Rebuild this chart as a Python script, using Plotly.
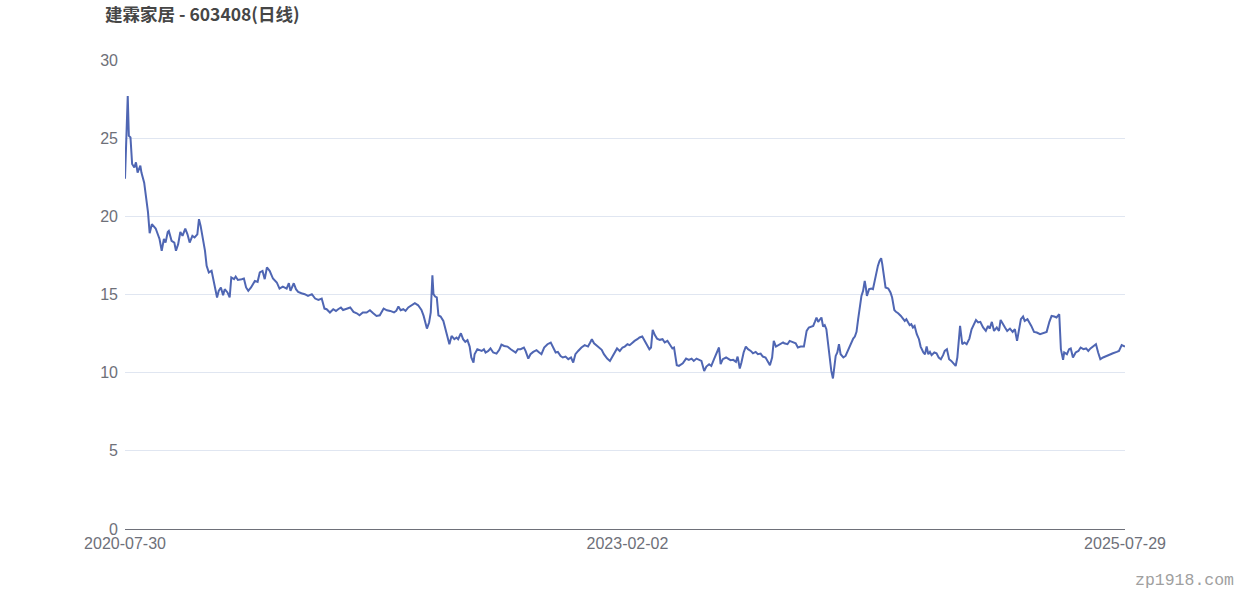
import plotly.graph_objects as go

title_text = "建霖家居 - 603408(日线)"
x_tick_dates = ["2020-07-30", "2023-02-02", "2025-07-29"]
x_tick_labels = ["2020-07-30", "2023-02-02", "2025-07-29"]
y_ticks = [0, 5, 10, 15, 20, 25, 30]
watermark = "zp1918.com"

dates_2020 = ["2020-07-30","2020-08-04","2020-08-06","2020-08-09","2020-08-12","2020-08-16","2020-08-19","2020-08-22","2020-08-27","2020-08-29",
"2020-09-03","2020-09-07","2020-09-10","2020-09-13","2020-09-17","2020-09-24","2020-09-27","2020-10-01","2020-10-05","2020-10-09",
"2020-10-12","2020-10-16","2020-10-18","2020-10-23","2020-10-28","2020-10-31","2020-11-04","2020-11-08","2020-11-12","2020-11-17",
"2020-11-21","2020-11-25","2020-11-30","2020-12-04","2020-12-09","2020-12-12","2020-12-15","2020-12-18","2020-12-23","2020-12-26","2020-12-30"]
close_2020 = [22.4,27.7,25.15,25.05,23.35,23.12,23.45,22.8,23.25,22.8,
22.15,21.2,20.25,18.92,19.5,19.22,18.95,18.55,17.8,18.55,
18.32,19.0,19.07,18.43,18.32,17.8,18.22,19.0,18.75,19.22,
18.85,18.32,18.75,18.65,18.85,19.82,19.39,18.75,17.79,16.83,16.41]

dates_2021 = ["2021-01-04","2021-01-08","2021-01-11","2021-01-14","2021-01-17","2021-01-21","2021-01-25","2021-01-28","2021-02-02","2021-02-06",
"2021-02-09","2021-02-14","2021-02-17","2021-02-21","2021-02-28","2021-03-04","2021-03-08","2021-03-12","2021-03-17","2021-03-24",
"2021-03-29","2021-04-02","2021-04-07","2021-04-11","2021-04-15","2021-04-20","2021-04-26","2021-05-03","2021-05-08","2021-05-14",
"2021-05-21","2021-05-25","2021-05-28","2021-06-03","2021-06-07","2021-06-11","2021-06-17","2021-06-23","2021-06-29","2021-07-06",
"2021-07-12","2021-07-18","2021-07-24","2021-07-29","2021-08-02","2021-08-08","2021-08-14","2021-08-19","2021-08-23","2021-08-28",
"2021-09-01","2021-09-07","2021-09-14","2021-09-20","2021-09-26","2021-10-01","2021-10-07","2021-10-14","2021-10-20","2021-10-26",
"2021-11-01","2021-11-07","2021-11-14","2021-11-20","2021-11-26","2021-12-03","2021-12-07","2021-12-11","2021-12-15","2021-12-20",
"2021-12-24","2021-12-29"]
close_2021 = [16.51,15.77,15.13,14.81,15.23,15.45,14.95,15.34,15.13,14.81,
16.09,15.98,16.15,15.93,15.98,16.02,15.45,15.23,15.45,15.87,
15.81,16.41,16.51,15.98,16.73,16.51,16.02,15.77,15.38,15.5,
15.38,15.72,15.23,15.72,15.34,15.17,15.08,15.02,14.91,15.02,
14.74,14.65,14.74,14.1,14.06,13.85,14.06,13.95,14.06,14.17,
14.01,14.1,14.17,13.89,13.8,13.67,13.85,13.85,13.99,13.8,
13.63,13.67,14.1,13.99,13.95,13.85,13.95,14.23,13.99,14.06,
13.95,14.17]

dates_2022 = ["2022-01-04","2022-01-10","2022-01-16","2022-01-22","2022-01-26","2022-01-30","2022-02-01","2022-02-05","2022-02-08","2022-02-11",
"2022-02-13","2022-02-16","2022-02-19","2022-02-22","2022-02-26","2022-03-03","2022-03-07","2022-03-11","2022-03-14","2022-03-18",
"2022-03-23","2022-03-27","2022-03-30","2022-04-04","2022-04-08","2022-04-12","2022-04-16","2022-04-20","2022-04-23","2022-04-27",
"2022-04-29","2022-05-04","2022-05-07","2022-05-12","2022-05-16","2022-05-19","2022-05-24","2022-05-28","2022-06-02","2022-06-08",
"2022-06-13","2022-06-17","2022-06-22","2022-06-28","2022-07-04","2022-07-08","2022-07-13","2022-07-17","2022-07-22","2022-07-28",
"2022-07-31","2022-08-05","2022-08-09","2022-08-14","2022-08-20","2022-08-25","2022-08-29","2022-09-03","2022-09-09","2022-09-15",
"2022-09-19","2022-09-24","2022-09-28","2022-10-03","2022-10-07","2022-10-12","2022-10-17","2022-10-22","2022-10-26","2022-10-30",
"2022-11-04","2022-11-10","2022-11-16","2022-11-22","2022-11-26","2022-11-29","2022-12-03","2022-12-07","2022-12-12","2022-12-17",
"2022-12-21","2022-12-27"]
close_2022 = [14.31,14.44,14.31,14.01,13.63,12.99,12.82,13.21,13.85,16.23,
15.02,14.87,14.81,13.67,13.59,13.31,12.78,12.4,11.82,12.35,
12.14,12.25,12.14,12.52,12.14,11.97,12.08,11.67,10.97,10.65,
11.18,11.5,11.46,11.39,11.5,11.29,11.39,11.55,11.29,11.22,
11.46,11.8,11.71,11.67,11.5,11.39,11.29,11.5,11.5,11.61,
11.39,10.9,11.18,11.33,11.44,11.29,11.18,11.61,11.82,11.93,
11.61,11.29,11.33,11.07,10.97,11.03,10.86,10.97,10.65,11.18,
11.39,11.61,11.76,11.67,11.93,12.14,11.88,11.76,11.61,11.46,
11.18,10.9]

dates_2023 = ["2023-01-01","2023-01-06","2023-01-10","2023-01-14","2023-01-19","2023-01-24","2023-01-28","2023-02-02","2023-02-06","2023-02-11",
"2023-02-15","2023-02-20","2023-02-24","2023-03-01","2023-03-04","2023-03-09","2023-03-14","2023-03-17","2023-03-20","2023-03-24",
"2023-03-28","2023-04-02","2023-04-07","2023-04-11","2023-04-16","2023-04-20","2023-04-25","2023-04-28","2023-05-03","2023-05-07",
"2023-05-14","2023-05-20","2023-05-25","2023-05-30","2023-06-03","2023-06-08","2023-06-13","2023-06-17","2023-06-22","2023-06-26",
"2023-07-01","2023-07-05","2023-07-10","2023-07-14","2023-07-19","2023-07-22","2023-07-26","2023-08-01","2023-08-05","2023-08-09",
"2023-08-14","2023-08-19","2023-08-22","2023-08-26","2023-08-29","2023-09-02","2023-09-06","2023-09-10","2023-09-15","2023-09-19",
"2023-09-24","2023-09-28","2023-10-03","2023-10-07","2023-10-12","2023-10-16","2023-10-20","2023-10-24","2023-10-27","2023-10-31",
"2023-11-04","2023-11-08","2023-11-13","2023-11-15","2023-11-21","2023-11-25","2023-12-01","2023-12-06","2023-12-10","2023-12-15",
"2023-12-21","2023-12-26","2023-12-30"]
close_2023 = [10.75,11.07,11.29,11.55,11.39,11.61,11.67,11.82,11.76,11.93,
12.03,12.14,12.25,12.31,12.14,11.82,11.5,11.61,12.74,12.4,
12.18,12.1,12.14,11.93,12.03,11.82,11.55,11.61,10.48,10.43,
10.6,10.9,10.82,10.9,10.75,10.9,10.82,10.75,10.11,10.39,
10.54,10.43,10.86,11.18,11.61,10.54,10.86,10.97,10.9,10.8,
10.82,10.69,11.03,10.27,10.65,11.29,11.67,11.5,11.39,11.24,
11.33,11.18,11.22,11.03,10.97,10.75,10.48,10.97,12.03,11.67,
11.76,11.82,11.93,11.88,11.82,12.03,11.93,11.88,11.61,11.67,
11.67,12.67,12.89]

dates_2024 = ["2024-01-03","2024-01-07","2024-01-10","2024-01-13","2024-01-16","2024-01-19","2024-01-22","2024-01-25","2024-01-28","2024-01-31",
"2024-02-03","2024-02-06","2024-02-09","2024-02-12","2024-02-14","2024-02-17","2024-02-20","2024-02-23","2024-02-26","2024-03-02",
"2024-03-06","2024-03-11","2024-03-16","2024-03-20","2024-03-23","2024-03-26","2024-03-29","2024-04-01","2024-04-04","2024-04-07",
"2024-04-10","2024-04-12","2024-04-14","2024-04-18","2024-04-22","2024-04-25","2024-04-28","2024-05-02","2024-05-04","2024-05-07",
"2024-05-10","2024-05-12","2024-05-15","2024-05-18","2024-05-23","2024-05-27","2024-05-30","2024-06-03","2024-06-06","2024-06-10",
"2024-06-15","2024-06-19","2024-06-22","2024-06-25","2024-06-28","2024-07-01","2024-07-04","2024-07-07","2024-07-10","2024-07-14",
"2024-07-18","2024-07-21","2024-07-26","2024-07-29","2024-08-01","2024-08-04","2024-08-07","2024-08-10","2024-08-15","2024-08-19",
"2024-08-23","2024-08-27","2024-08-31","2024-09-03","2024-09-07","2024-09-11","2024-09-15","2024-09-20","2024-09-23","2024-09-26",
"2024-09-28","2024-10-01","2024-10-05","2024-10-09","2024-10-13","2024-10-18","2024-10-22","2024-10-25","2024-10-30","2024-11-03",
"2024-11-07","2024-11-12","2024-11-17","2024-11-21","2024-11-24","2024-11-28","2024-12-02","2024-12-07","2024-12-11","2024-12-14",
"2024-12-18","2024-12-22","2024-12-26","2024-12-31"]
close_2024 = [12.95,12.99,13.25,13.53,13.25,13.42,13.53,12.95,13.04,12.78,
11.82,10.86,10.11,9.63,10.11,11.07,11.29,11.82,11.18,10.97,
11.07,11.5,11.88,12.18,12.31,12.61,13.42,14.27,14.91,15.23,
15.87,15.45,14.91,15.34,15.38,15.34,15.87,16.62,16.83,17.15,
17.32,16.94,16.3,15.45,15.38,15.13,14.81,14.01,13.89,13.8,
13.63,13.42,13.31,13.42,13.21,13.04,13.1,12.89,12.99,12.46,
12.14,11.67,11.29,11.18,11.67,11.18,11.33,11.12,11.29,11.24,
10.97,10.86,11.12,11.39,11.5,10.86,10.75,10.54,10.43,10.97,
11.71,12.99,11.82,11.93,11.82,12.18,12.78,12.99,13.37,13.21,
13.25,12.89,12.67,12.99,12.82,13.25,12.67,12.89,12.67,13.37,
13.1,12.89,12.67,12.82]

dates_2025 = ["2025-01-05","2025-01-09","2025-01-13","2025-01-17","2025-01-20","2025-01-24","2025-01-27","2025-02-01","2025-02-04","2025-02-08",
"2025-02-13","2025-02-18","2025-02-24","2025-03-02","2025-03-08","2025-03-13","2025-03-17","2025-03-22","2025-03-26","2025-03-31",
"2025-04-03","2025-04-07","2025-04-09","2025-04-14","2025-04-18","2025-04-21","2025-04-25","2025-04-30","2025-05-05","2025-05-09",
"2025-05-14","2025-05-19","2025-05-23","2025-05-27","2025-06-01","2025-06-06","2025-06-10","2025-06-14","2025-06-19","2025-06-25",
"2025-07-01","2025-07-07","2025-07-14","2025-07-18","2025-07-23","2025-07-27","2025-07-29"]
close_2025 = [12.61,12.78,12.03,12.78,13.42,13.59,13.31,13.42,13.25,12.99,
12.61,12.57,12.46,12.52,12.61,13.25,13.63,13.59,13.53,13.74,
11.5,10.82,11.29,11.18,11.5,11.55,10.97,11.29,11.39,11.61,
11.5,11.55,11.39,11.55,11.67,11.82,11.29,10.86,10.97,11.07,
11.12,11.24,11.33,11.39,11.76,11.67,11.67]

dates = dates_2020 + dates_2021 + dates_2022 + dates_2023 + dates_2024 + dates_2025
close = close_2020 + close_2021 + close_2022 + close_2023 + close_2024 + close_2025

label_color = "#6e7079"
font_family = "Liberation Sans, Arial, Noto Sans CJK SC, sans-serif"

fig = go.Figure()
fig.add_trace(go.Scatter(
    x=dates, y=close, mode="lines",
    line=dict(color="#4f66b3", width=2),
    showlegend=False, hoverinfo="x+y",
))

fig.update_layout(
    width=1250, height=600,
    margin=dict(l=125, r=125, t=60, b=71),
    paper_bgcolor="white", plot_bgcolor="white",
    font=dict(family=font_family, color=label_color, size=16),
    title=dict(
        text="<b>" + title_text + "</b>",
        x=105 / 1250, xanchor="left", xref="container",
        y=1 - 15 / 600, yanchor="middle", yref="container",
        font=dict(family="Noto Sans CJK SC, Liberation Sans, sans-serif", size=17.5, color="#464646"),
    ),
    xaxis=dict(
        type="date",
        range=[x_tick_dates[0], x_tick_dates[-1]],
        tickmode="array", tickvals=x_tick_dates, ticktext=x_tick_labels,
        showgrid=False, zeroline=False,
        showline=True, linecolor=label_color, linewidth=1,
        ticks="", tickfont=dict(size=16, color=label_color),
    ),
    yaxis=dict(
        range=[0, 30], tickmode="array", tickvals=y_ticks,
        showgrid=True, gridcolor="#e0e6f1", gridwidth=1,
        zeroline=False, showline=False, ticks="",
        ticklabelstandoff=6,
        tickfont=dict(size=16, color=label_color),
    ),
    annotations=[dict(
        text=watermark, xref="paper", yref="paper",
        x=1.111, y=-0.109, xanchor="right", yanchor="middle",
        showarrow=False,
        font=dict(family="Liberation Mono, Courier New, monospace", size=16.5, color="#a0a0a0"),
    )],
)

fig.write_html("out.html", config={"displayModeBar": False},
               post_script="document.body.style.margin='0px';")
